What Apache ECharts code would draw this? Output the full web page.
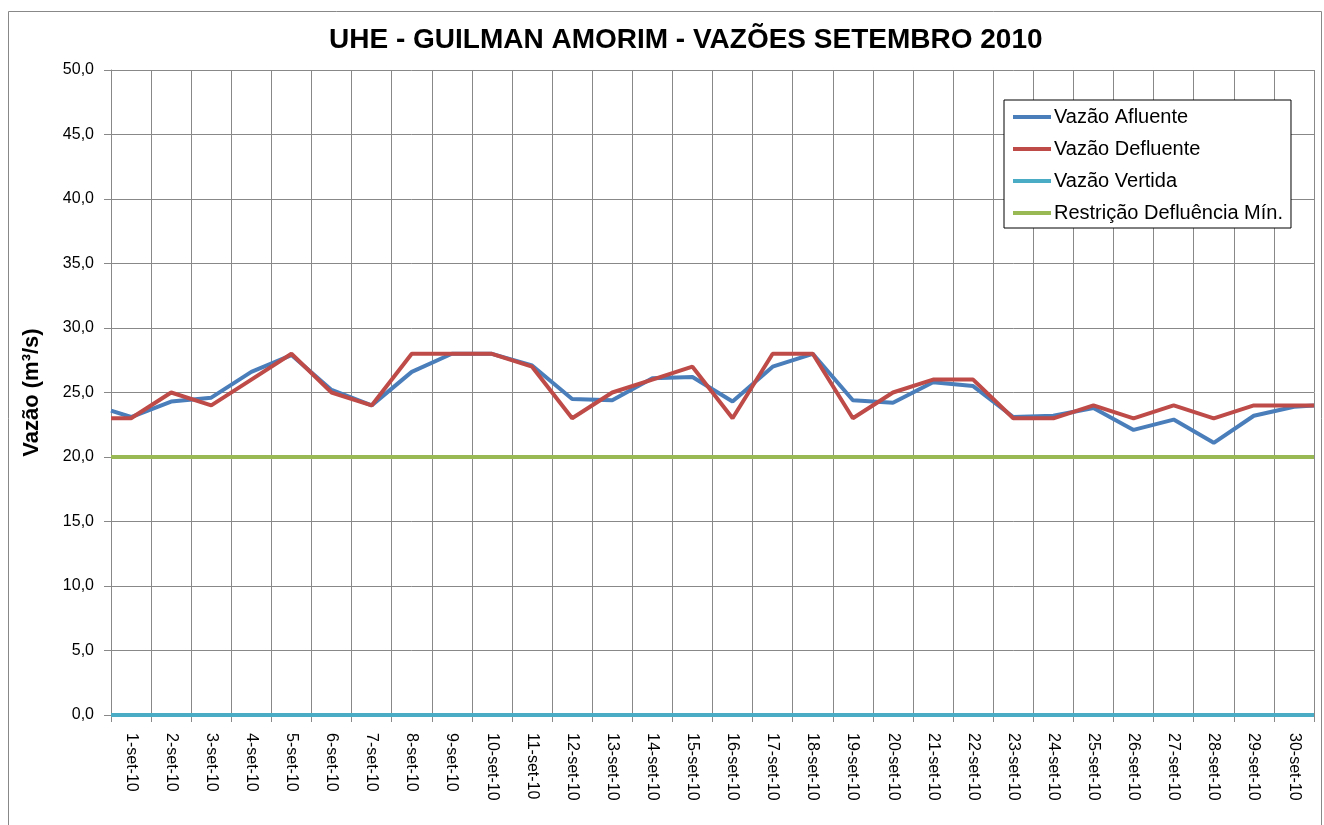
<!DOCTYPE html>
<html>
<head>
<meta charset="utf-8">
<script src="https://cdn.jsdelivr.net/npm/echarts@6/dist/echarts.min.js"></script>
<style>
html,body{margin:0;padding:0;background:#fff;}
#chart{width:1324px;height:825px;}
</style>
</head>
<body>
<div id="chart"></div>
<script>
// ---- data ----
const dayLabels = ['1-set-10','2-set-10','3-set-10','4-set-10','5-set-10','6-set-10','7-set-10','8-set-10','9-set-10','10-set-10',
  '11-set-10','12-set-10','13-set-10','14-set-10','15-set-10','16-set-10','17-set-10','18-set-10','19-set-10','20-set-10',
  '21-set-10','22-set-10','23-set-10','24-set-10','25-set-10','26-set-10','27-set-10','28-set-10','29-set-10','30-set-10'];
const afluente  = [23.1,24.3,24.6,26.6,27.9,25.2,24.0,26.6,28.0,28.0,27.1,24.5,24.4,26.1,26.2,24.3,27.0,28.0,24.4,24.2,25.8,25.5,23.1,23.2,23.8,22.1,22.9,21.1,23.2,23.9];
const defluente = [23.0,25.0,24.0,26.0,28.0,25.0,24.0,28.0,28.0,28.0,27.0,23.0,25.0,26.0,27.0,23.0,28.0,28.0,23.0,25.0,26.0,26.0,23.0,23.0,24.0,23.0,24.0,23.0,24.0,24.0];
const vertida   = [0,0,0,0,0,0,0,0,0,0,0,0,0,0,0,0,0,0,0,0,0,0,0,0,0,0,0,0,0,0];
const restricao = [20,20,20,20,20,20,20,20,20,20,20,20,20,20,20,20,20,20,20,20,20,20,20,20,20,20,20,20,20,20];
// values where the lines meet the left and right edges of the plot
const afluenteEdges  = [23.6, 24.0];
const defluenteEdges = [23.0, 24.0];
const vertidaEdges   = [0, 0];
const restricaoEdges = [20, 20];
const seriesNames = ['Vazão Afluente','Vazão Defluente','Vazão Vertida','Restrição Defluência Mín.'];
const yTicks = {min:0, max:50, interval:5};

// ---- build ----
function toPairs(vals, edges){
  const out = [[0.5, edges[0]]];
  vals.forEach((v,i)=>out.push([i+1, v]));
  out.push([vals.length + 0.5, edges[1]]);
  return out;
}
const colors = ['#4A7EBB','#BE4B48','#4BACC6','#98B954'];
const fam = 'Liberation Sans';
const chart = echarts.init(document.getElementById('chart'), null, {renderer:'canvas'});
const mk = (name, vals, edges, c) => ({
  name, type:'line', xAxisIndex:1, data: toPairs(vals, edges), symbol:'none',
  color:c, lineStyle:{color:c, width:4}, animation:false
});
chart.setOption({
  animation:false,
  backgroundColor:'#fff',
  title:{text:'UHE - GUILMAN AMORIM - VAZÕES SETEMBRO 2010', left:324, top:21,
    textStyle:{fontFamily:fam, fontWeight:'bold', fontSize:28, color:'#000'}},
  graphic:[{type:'rect', shape:{x:8.5, y:11.5, width:1313, height:840},
    style:{fill:'none', stroke:'#888', lineWidth:1}, silent:true, z:-1}],
  grid:{left:111, top:70, right:10, bottom:110, containLabel:false},
  legend:{
    data:seriesNames, orient:'vertical', left:1004, top:100,
    icon:'rect', itemWidth:38, itemHeight:4, itemGap:10,
    padding:[6,8,4,9], borderColor:'#000', borderWidth:1, backgroundColor:'#fff',
    textStyle:{fontFamily:fam, fontSize:20, color:'#000', lineHeight:22, padding:[0,0,0,-2]}
  },
  xAxis:[{
    type:'category', data:dayLabels, boundaryGap:true,
    axisLine:{show:true, lineStyle:{color:'#888', width:1}},
    axisTick:{show:true, alignWithLabel:false, length:7, lineStyle:{color:'#888'}},
    splitLine:{show:true, lineStyle:{color:'#888', width:1}},
    axisLabel:{rotate:-90, interval:0, margin:18, fontFamily:fam, fontSize:16, color:'#000'}
  },{
    type:'value', min:0.5, max:30.5, show:false
  }],
  yAxis:{
    type:'value', min:yTicks.min, max:yTicks.max, interval:yTicks.interval,
    name:'Vazão (m³/s)', nameLocation:'middle', nameGap:68, nameRotate:90,
    nameTextStyle:{fontFamily:fam, fontWeight:'bold', fontSize:22, color:'#000'},
    axisLine:{show:true, lineStyle:{color:'#888'}},
    axisTick:{show:true, length:7, lineStyle:{color:'#888'}},
    splitLine:{show:true, lineStyle:{color:'#888', width:1}},
    axisLabel:{margin:17, fontFamily:fam, fontSize:16, color:'#000',
      formatter:v=>v.toFixed(1).replace('.',',')}
  },
  series:[
    mk(seriesNames[0], afluente, afluenteEdges, colors[0]),
    mk(seriesNames[1], defluente, defluenteEdges, colors[1]),
    mk(seriesNames[2], vertida, vertidaEdges, colors[2]),
    mk(seriesNames[3], restricao, restricaoEdges, colors[3])
  ]
});
</script>
</body>
</html>
